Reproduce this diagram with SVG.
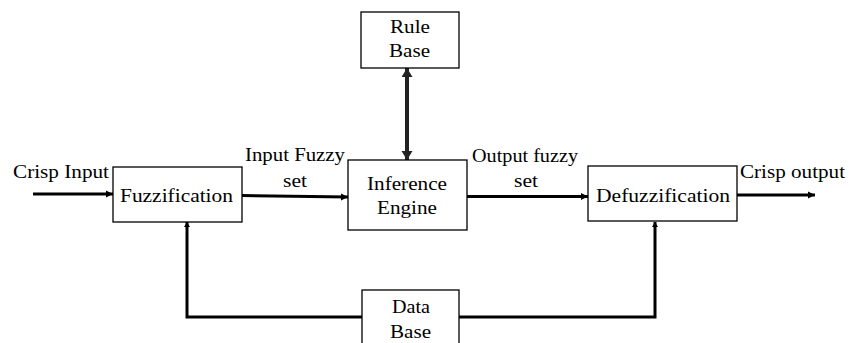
<svg xmlns="http://www.w3.org/2000/svg" width="849" height="343" viewBox="0 0 849 343">
<defs>
<style>
.box{fill:#fff;stroke:#000;stroke-width:1.3}
.t{font-family:'Liberation Serif','Times New Roman','DejaVu Serif','Noto Serif',serif;font-size:19.5px;fill:#000}
.c{fill:none;stroke:#000;stroke-width:3}
.cb{fill:none;stroke:#222;stroke-width:4}
</style>
<marker id="ah" markerUnits="userSpaceOnUse" markerWidth="10" markerHeight="10" refX="7" refY="4" orient="auto">
<path d="M0,0.5 L7,4 L0,7.5 Z" fill="#000"/>
</marker>
<marker id="ahs" markerUnits="userSpaceOnUse" markerWidth="8" markerHeight="8" refX="5" refY="3" orient="auto">
<path d="M0,0 L5,3 L0,6 Z" fill="#000"/>
</marker>
<marker id="ahb" markerUnits="userSpaceOnUse" markerWidth="12" markerHeight="12" refX="9" refY="5.5" orient="auto-start-reverse">
<path d="M0,0 L9,5.5 L0,11 Z" fill="#222"/>
</marker>
</defs>
<g id="connectors">
<line class="c" x1="33" y1="194" x2="113" y2="194" marker-end="url(#ah)"/>
<line class="c" x1="242" y1="195.5" x2="348" y2="197" marker-end="url(#ah)"/>
<line class="c" x1="467" y1="196.5" x2="588" y2="196.5" marker-end="url(#ah)"/>
<line class="c" x1="737" y1="195" x2="815" y2="195" marker-end="url(#ah)"/>
<line class="cb" x1="407" y1="68" x2="407" y2="160" marker-start="url(#ahb)" marker-end="url(#ahb)"/>
<polyline class="c" stroke-width="3.5" points="362,317 187,317 187,222" marker-end="url(#ahs)"/>
<polyline class="c" stroke-width="3.5" points="459,317 655,317 655,222" marker-end="url(#ahs)"/>
</g>
<g id="crisp-input-label"><text class="t" x="13" y="178" textLength="96" lengthAdjust="spacingAndGlyphs">Crisp Input</text></g>
<g id="input-fuzzy-label"><text class="t" x="245" y="161" textLength="100" lengthAdjust="spacingAndGlyphs">Input Fuzzy</text><text class="t" x="283" y="187" textLength="24" lengthAdjust="spacingAndGlyphs">set</text></g>
<g id="output-fuzzy-label"><text class="t" x="472" y="162" textLength="106" lengthAdjust="spacingAndGlyphs">Output fuzzy</text><text class="t" x="514" y="187" textLength="24" lengthAdjust="spacingAndGlyphs">set</text></g>
<g id="crisp-output-label"><text class="t" x="740" y="178" textLength="105" lengthAdjust="spacingAndGlyphs">Crisp output</text></g>
<g id="fuzzification"><rect class="box" x="113" y="167" width="129" height="55"/><text class="t" x="120" y="201.5" textLength="113" lengthAdjust="spacingAndGlyphs">Fuzzification</text></g>
<g id="inference-engine"><rect class="box" x="348" y="160" width="119" height="70"/><text class="t" x="367" y="190" textLength="80" lengthAdjust="spacingAndGlyphs">Inference</text><text class="t" x="377" y="214" textLength="60" lengthAdjust="spacingAndGlyphs">Engine</text></g>
<g id="defuzzification"><rect class="box" x="588" y="166" width="149" height="55"/><text class="t" x="596" y="201.5" textLength="134" lengthAdjust="spacingAndGlyphs">Defuzzification</text></g>
<g id="rule-base"><rect class="box" x="361" y="12" width="98" height="56"/><text class="t" x="390" y="33" textLength="40" lengthAdjust="spacingAndGlyphs">Rule</text><text class="t" x="389" y="57" textLength="41" lengthAdjust="spacingAndGlyphs">Base</text></g>
<g id="data-base"><rect class="box" x="362" y="290" width="97" height="60"/><text class="t" x="392" y="313" textLength="38" lengthAdjust="spacingAndGlyphs">Data</text><text class="t" x="390" y="338" textLength="41" lengthAdjust="spacingAndGlyphs">Base</text></g>
</svg>
